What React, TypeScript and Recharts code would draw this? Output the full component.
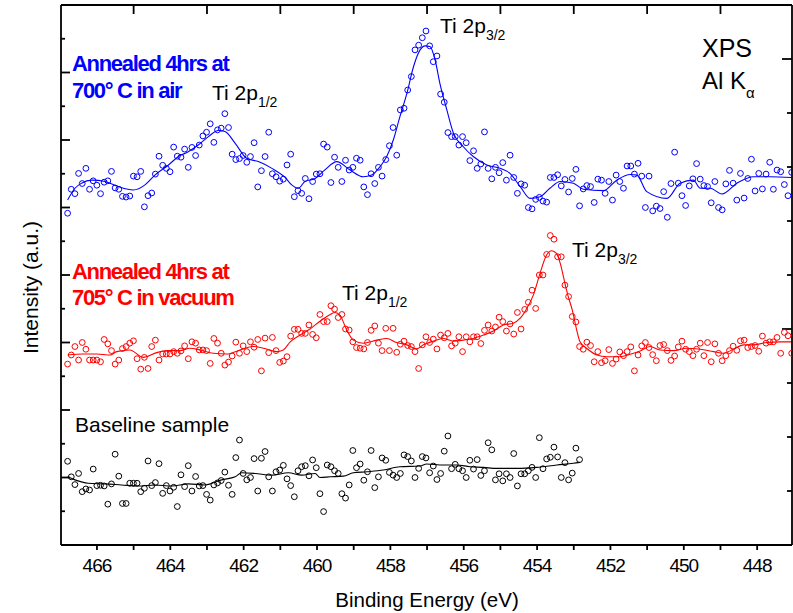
import React from "react";
import { ComposedChart, Scatter, Line, XAxis, YAxis, Customized } from "recharts";

const FONT = "'Liberation Sans', Arial, Helvetica, sans-serif";

// energy of the first channel and the channel spacing (eV)
const scanStart = 466.8;
const scanStep = 0.0997;

const airCounts = [
  9.83, 10.54, 10.41, 11.01, 10.71, 11.16, 10.54, 10.79, 10.66, 10.41,
  10.75, 10.79, 11.07, 10.58, 10.54, 10.33, 10.31, 10.34, 10.93, 10.91,
  11.07, 10.02, 10.35, 10.43, 10.99, 11.52, 11.25, 11.16, 11.06, 11.79,
  11.52, 11.49, 11.73, 11.19, 11.78, 11.54, 11.85, 12.12, 12.23, 12.48,
  11.93, 12.3, 12.35, 12.78, 12.37, 11.58, 11.42, 11.45, 11.54, 11.34,
  11.51, 11.92, 10.61, 11.09, 11.51, 12.23, 11.0, 10.91, 10.78, 10.84,
  11.26, 11.58, 10.32, 10.5, 10.42, 10.86, 10.26, 10.77, 10.99, 11.0,
  11.88, 11.79, 10.74, 11.49, 11.19, 10.77, 11.4, 11.11, 11.19, 11.46,
  11.4, 10.61, 10.38, 11.0, 10.71, 11.19, 10.93, 11.42, 11.83, 12.37,
  11.55, 12.89,
  12.94, 13.48, 13.88, 14.67, 14.81, 15.03, 15.23, 14.79, 14.32, 14.49,
  13.36, 13.12, 12.22, 12.1, 12.1, 11.85, 12.1, 11.92, 11.39, 11.68,
  11.16, 11.29, 12.24, 11.16, 10.85, 11.19, 11.03, 11.33, 10.81, 11.55,
  10.89, 10.42, 10.7, 10.66, 10.0, 9.96, 10.24, 10.3, 10.19, 10.16,
  10.89, 10.89, 10.97, 10.64, 10.83, 10.46, 10.86, 11.13, 10.05, 10.55,
  10.65, 10.62, 10.15, 10.84, 10.81, 10.42, 10.77, 10.22, 10.96, 10.77,
  10.57, 11.23, 11.23, 10.99, 11.31, 10.93,
  10.0, 10.93, 9.9, 10.04, 9.97, 10.47, 9.71, 10.71, 11.64, 10.72,
  10.35, 10.06, 10.64, 10.85, 11.3, 10.84, 10.65, 10.62, 10.14, 10.77,
  10.0, 9.93, 10.7, 11.1, 10.72, 10.22, 11.01, 10.28, 10.86, 11.43,
  10.49, 11.01, 10.55, 10.99, 11.34, 10.54, 11.11, 11.06, 10.68, 10.35,
  11.04,
];

const vacuumCounts = [
  5.36, 5.63, 5.88, 5.48, 6.0, 5.8, 5.48, 5.48, 5.48, 5.43,
  6.09, 5.96, 5.76, 5.36, 5.48, 5.82, 5.88, 5.98, 6.05, 5.52,
  5.21, 5.56, 5.23, 5.88, 6.07, 5.48, 5.66, 5.66, 5.66, 5.73,
  5.68, 5.75, 5.9, 5.52, 6.02, 5.98, 5.78, 5.78, 5.76, 5.38,
  6.12, 5.98, 5.68, 5.33, 5.42, 5.6, 6.01, 5.68, 5.9, 5.73,
  6.02, 5.86, 6.09, 5.16, 6.13, 5.7, 6.15, 5.76, 5.41, 5.45,
  5.58, 6.19, 6.39, 6.39,
  6.27, 6.27, 6.52, 6.24, 6.14, 6.83, 6.62, 6.62, 7.09, 6.99,
  6.74, 6.83, 6.4, 6.37, 6.02, 5.85, 5.83, 5.81, 6.0, 6.36,
  6.49, 5.98, 5.76, 6.42, 5.76, 6.42, 5.71, 5.95, 6.04, 5.91,
  5.88, 5.73, 5.23, 5.93, 6.17, 6.0, 6.1, 5.81, 6.22, 6.14,
  6.27, 5.9, 5.98, 6.17, 5.73, 6.17, 6.02, 6.17, 6.17, 5.97,
  6.36, 6.52, 6.34, 6.46, 6.75, 6.62, 6.34, 6.55, 6.25, 6.89,
  6.4, 6.98, 7.19, 7.55, 7.01, 8.0, 8.0, 8.61, 9.17,
  9.06, 8.54, 8.54, 7.7, 7.36,
  6.77, 6.61, 5.88, 5.8, 6.01, 5.91, 5.43, 5.73, 5.4, 5.46,
  5.79, 5.38, 5.51, 5.72, 5.61, 5.73, 5.87, 5.16, 5.63, 5.9,
  6.0, 5.85, 5.64, 5.46, 5.91, 5.94, 5.76, 5.47, 5.6, 5.87,
  6.04, 5.8, 5.73, 5.61, 5.8, 5.98, 5.61, 6.0, 5.43, 5.96,
  5.68, 5.46, 5.61, 5.76, 5.89, 5.77, 6.05, 6.07, 5.85, 5.88,
  5.91, 5.74, 6.19, 5.98, 6.02, 6.02, 6.15, 5.68, 6.3, 6.2,
  5.68,
];

const baselineCounts = [
  2.48, 2.02, 1.79, 2.12, 1.58, 1.66, 1.63, 2.25, 1.76, 1.77,
  1.75, 1.21, 1.81, 2.69, 2.04, 1.23, 1.23, 1.83, 1.83, 1.83,
  1.58, 1.68, 2.49, 1.76, 1.85, 2.41, 1.53, 1.76, 1.6, 1.71,
  1.14, 2.08, 1.73, 2.35, 1.6, 2.03, 1.75, 1.76, 1.5, 1.33,
  1.78, 1.84, 1.91, 2.16, 1.77, 1.5, 2.59, 3.11, 2.12, 1.93,
  2.0, 2.56, 1.6, 2.57, 2.77, 2.02, 1.6, 2.17, 2.22, 2.36,
  1.96, 1.76, 1.43, 2.2, 2.32, 2.35, 2.05, 2.52, 2.29, 1.52,
  0.99, 2.37, 2.32, 2.2, 2.12, 1.52, 1.39, 1.78, 2.8, 2.29,
  2.4, 1.92, 2.17, 2.8, 1.7, 2.02, 2.58, 2.51, 2.15, 2.07,
  2.0,
  2.12, 2.67, 2.62, 2.49, 2.0, 2.27, 2.62, 2.58, 2.14, 2.34,
  1.94, 2.12, 2.78, 3.23, 2.26, 2.39, 2.26, 2.2, 2.0, 2.51,
  2.25, 2.53, 2.06, 2.2, 3.03, 2.82, 1.93, 2.11, 1.9, 2.11,
  2.0, 2.71, 1.75, 2.11, 2.11, 2.2, 2.3, 2.0, 3.18, 2.26,
  2.55, 2.6, 2.9, 2.61, 2.0, 2.44, 1.93, 2.13, 2.87, 2.53,
];

// smoothed curves (energy, intensity)
const airFitE = [
  466.8, 466.6, 466.42, 466.14, 465.78, 465.42, 465.01, 464.69, 464.42, 464.05,
  463.78, 463.51, 463.24, 462.96, 462.69, 462.51, 462.23, 461.92, 461.6, 461.23,
  460.87, 460.69, 460.51, 460.33, 460.05, 459.8, 459.46, 459.1, 458.74, 458.51,
  458.28, 458.1, 457.92, 457.74, 457.55, 457.37, 457.19, 457.05, 456.92, 456.78,
  456.65, 456.46, 456.28, 456.01, 455.74, 455.37, 455.01, 454.74, 454.46, 454.19,
  453.92, 453.65, 453.37, 453.01, 452.74, 452.19, 451.83, 451.46, 451.28, 451.01,
  450.46, 450.1, 449.74, 449.55, 449.28, 448.96, 448.55, 448.1, 447.65, 447.06,
];
const airFitI = [
  10.22, 10.57, 10.72, 10.81, 10.77, 10.62, 10.52, 10.67, 10.96, 11.26,
  11.51, 11.65, 11.85, 12.1, 12.28, 12.25, 11.9, 11.46, 11.36, 11.16,
  10.89, 10.67, 10.57, 10.77, 10.86, 11.1, 11.36, 11.11, 10.91, 10.96,
  11.21, 11.51, 12.0, 12.69, 13.38, 14.17, 14.67, 14.79, 14.77, 14.37,
  13.68, 12.89, 12.2, 11.8, 11.51, 11.26, 11.16, 11.01, 10.62, 10.27,
  10.32, 10.57, 10.77, 10.72, 10.54, 10.5, 10.81, 10.98, 10.96, 10.47,
  10.27, 10.72, 10.81, 10.57, 10.57, 10.4, 10.72, 10.91, 10.91, 10.89,
];

const vacuumFitE = [
  466.8, 466.37, 466.01, 465.64, 465.46, 465.1, 464.74, 464.37, 464.1, 463.74,
  463.46, 463.19, 462.83, 462.46, 462.1, 461.74, 461.46, 461.1, 460.92, 460.73,
  460.46, 460.19, 459.92, 459.64, 459.51, 459.37, 459.19, 459.01, 458.74, 458.37,
  458.1, 457.83, 457.55, 457.28, 457.1, 456.83, 456.56, 456.28, 456.01, 455.74,
  455.46, 455.19, 454.92, 454.65, 454.46, 454.28, 454.1, 453.92, 453.74, 453.6,
  453.47, 453.37, 453.24, 453.15, 453.04, 452.92, 452.83, 452.65, 452.37, 452.1,
  451.74, 451.46, 451.19, 450.92, 450.65, 450.28, 449.92, 449.55, 449.19, 448.92,
  448.65, 448.37, 448.1, 447.74, 447.37, 447.06,
];
const vacuumFitI = [
  5.63, 5.66, 5.66, 5.63, 5.73, 5.78, 5.56, 5.7, 5.76, 5.76,
  5.83, 5.78, 5.68, 5.66, 5.78, 5.88, 5.83, 5.73, 5.78, 6.02,
  6.22, 6.4, 6.63, 6.83, 6.89, 6.8, 6.37, 6.07, 5.98, 6.07,
  6.12, 6.0, 5.93, 5.81, 5.93, 6.04, 6.12, 6.04, 6.07, 6.12,
  6.22, 6.34, 6.52, 6.57, 6.72, 7.01, 7.41, 8.05, 8.59, 8.72,
  8.64, 8.35, 7.75, 7.36, 6.96, 6.37, 6.02, 5.83, 5.63, 5.58,
  5.58, 5.65, 5.75, 5.88, 5.78, 5.76, 5.83, 5.8, 5.73, 5.68,
  5.8, 5.93, 5.93, 6.0, 6.02, 6.02,
];

const baselineFitE = [
  466.8, 466.6, 466.24, 465.78, 465.33, 464.87, 464.42, 463.96, 463.51, 463.05,
  462.6, 462.23, 462.05, 461.69, 461.23, 460.78, 460.42, 460.05, 459.92, 459.64,
  459.28, 459.01, 458.64, 458.19, 457.74, 457.19, 457.01, 456.56, 456.19, 455.83,
  455.46, 455.1, 454.55, 454.01, 453.46, 453.01, 452.83,
];
const baselineFitI = [
  2.02, 1.93, 1.83, 1.81, 1.78, 1.75, 1.78, 1.75, 1.81, 1.78,
  1.93, 2.02, 2.14, 2.12, 2.07, 2.14, 2.07, 2.12, 2.0, 2.02,
  2.04, 2.14, 2.17, 2.22, 2.32, 2.34, 2.4, 2.37, 2.37, 2.32,
  2.3, 2.27, 2.27, 2.3, 2.37, 2.42, 2.45,
];

const xTicks = [466, 465, 464, 463, 462, 461, 460, 459, 458, 457, 456, 455, 454, 453, 452, 451, 450, 449, 448];
const topTicks = [465, 463, 461, 459, 457, 455, 453, 451, 449];
const leftMajor = [2, 4, 6, 8, 10, 12, 14];
const leftMinor = [1, 3, 5, 7, 9, 11, 13, 15];
const rightMajor = [4, 9];
const rightMinor = [1, 2, 3, 5, 6, 7, 8];

const BLUE = "#0000ff";
const RED = "#ff0000";
const BLACK = "#000000";

const toPoints = (counts: number[]) =>
  counts.map((i, k) => ({ e: scanStart - k * scanStep, i }));
const toCurve = (es: number[], is: number[]) => es.map((e, k) => ({ e, i: is[k] }));

const ring = (color: string) => (p: any) =>
  <circle cx={p.cx} cy={p.cy} r={2.9} fill="none" stroke={color} strokeWidth={1} />;

const frame = { stroke: "#000", strokeWidth: 1.8 };
const noLabel = () => "";
// a hair-thin box so the mirrored axes are still drawn on the frame
const THIN = 0.01;

const Annotations = () => (
  <g fontFamily={FONT}>
    <text x={72} y={71} fill={BLUE} fontSize={22} fontWeight="bold" letterSpacing={-1.3}>Annealed 4hrs at</text>
    <text x={72} y={98} fill={BLUE} fontSize={22} fontWeight="bold" letterSpacing={-1.3}>700° C in air</text>
    <text x={72} y={279} fill={RED} fontSize={22} fontWeight="bold" letterSpacing={-1.3}>Annealed 4hrs at</text>
    <text x={72} y={305} fill={RED} fontSize={22} fontWeight="bold" letterSpacing={-1.3}>705° C in vacuum</text>
    <text x={75} y={432} fontSize={21}>Baseline sample</text>
    <text x={440} y={32.5} fontSize={21}>Ti 2p<tspan fontSize={14} dy={7}>3/2</tspan></text>
    <text x={212} y={100} fontSize={21}>Ti 2p<tspan fontSize={14} dy={7}>1/2</tspan></text>
    <text x={572} y={257} fontSize={21}>Ti 2p<tspan fontSize={14} dy={7}>3/2</tspan></text>
    <text x={342} y={300} fontSize={21}>Ti 2p<tspan fontSize={14} dy={7}>1/2</tspan></text>
    <text x={702} y={57} fontSize={25}>XPS</text>
    <text x={702} y={88.5} fontSize={24}>Al K<tspan fontSize={15} dy={9}>α</tspan></text>
    <text x={427} y={607} fontSize={20.5} textAnchor="middle">Binding Energy (eV)</text>
    <text transform="translate(38,287.5) rotate(-90)" fontSize={21} textAnchor="middle">Intensity (a.u.)</text>
  </g>
);

export default function App() {
  const xDomain: [number, number] = [447.05, 466.98];
  return (
    <div style={{ position: "absolute", left: 0, top: 0, width: 793, height: 613, background: "#fff" }}>
      <ComposedChart width={793} height={613} margin={{ top: 5, right: 1, bottom: 0, left: 61 }}>
        <XAxis
          xAxisId="bottom" type="number" dataKey="e" domain={xDomain} reversed allowDataOverflow
          ticks={xTicks} interval={0} height={68} tickSize={5} tickMargin={9}
          tickFormatter={(v: number) => (v % 2 === 0 ? String(v) : "")}
          axisLine={frame} tickLine={frame}
          tick={{ fontSize: 19, fill: "#000", fontFamily: FONT, letterSpacing: -1 }}
        />
        <XAxis
          xAxisId="top" orientation="top" type="number" dataKey="e" domain={xDomain} reversed allowDataOverflow
          ticks={topTicks} interval={0} height={THIN} mirror tickSize={9}
          tickFormatter={noLabel} axisLine={frame} tickLine={frame}
        />
        <YAxis
          yAxisId="left" type="number" dataKey="i" domain={[0, 16]} allowDataOverflow
          ticks={leftMajor} interval={0} width={THIN} mirror tickSize={9}
          tickFormatter={noLabel} axisLine={frame} tickLine={frame}
        />
        <YAxis
          yAxisId="leftMinor" type="number" domain={[0, 16]} allowDataOverflow
          ticks={leftMinor} interval={0} width={THIN} mirror tickSize={4}
          tickFormatter={noLabel} axisLine={false} tickLine={frame}
        />
        <YAxis
          yAxisId="right" orientation="right" type="number" domain={[0, 10]} allowDataOverflow
          ticks={rightMajor} interval={0} width={THIN} mirror tickSize={10}
          tickFormatter={noLabel} axisLine={frame} tickLine={frame}
        />
        <YAxis
          yAxisId="rightMinor" orientation="right" type="number" domain={[0, 10]} allowDataOverflow
          ticks={rightMinor} interval={0} width={THIN} mirror tickSize={5}
          tickFormatter={noLabel} axisLine={false} tickLine={frame}
        />

        <Scatter xAxisId="bottom" yAxisId="left" data={toPoints(airCounts)} dataKey="i" shape={ring(BLUE)} isAnimationActive={false} />
        <Scatter xAxisId="bottom" yAxisId="left" data={toPoints(vacuumCounts)} dataKey="i" shape={ring(RED)} isAnimationActive={false} />
        <Scatter xAxisId="bottom" yAxisId="left" data={toPoints(baselineCounts)} dataKey="i" shape={ring(BLACK)} isAnimationActive={false} />

        <Line xAxisId="bottom" yAxisId="left" data={toCurve(airFitE, airFitI)} dataKey="i" type="monotone" stroke={BLUE} strokeWidth={1.1} dot={false} isAnimationActive={false} />
        <Line xAxisId="bottom" yAxisId="left" data={toCurve(vacuumFitE, vacuumFitI)} dataKey="i" type="monotone" stroke={RED} strokeWidth={1.1} dot={false} isAnimationActive={false} />
        <Line xAxisId="bottom" yAxisId="left" data={toCurve(baselineFitE, baselineFitI)} dataKey="i" type="monotone" stroke={BLACK} strokeWidth={1.1} dot={false} isAnimationActive={false} />

        <Customized component={Annotations} />
      </ComposedChart>
    </div>
  );
}
